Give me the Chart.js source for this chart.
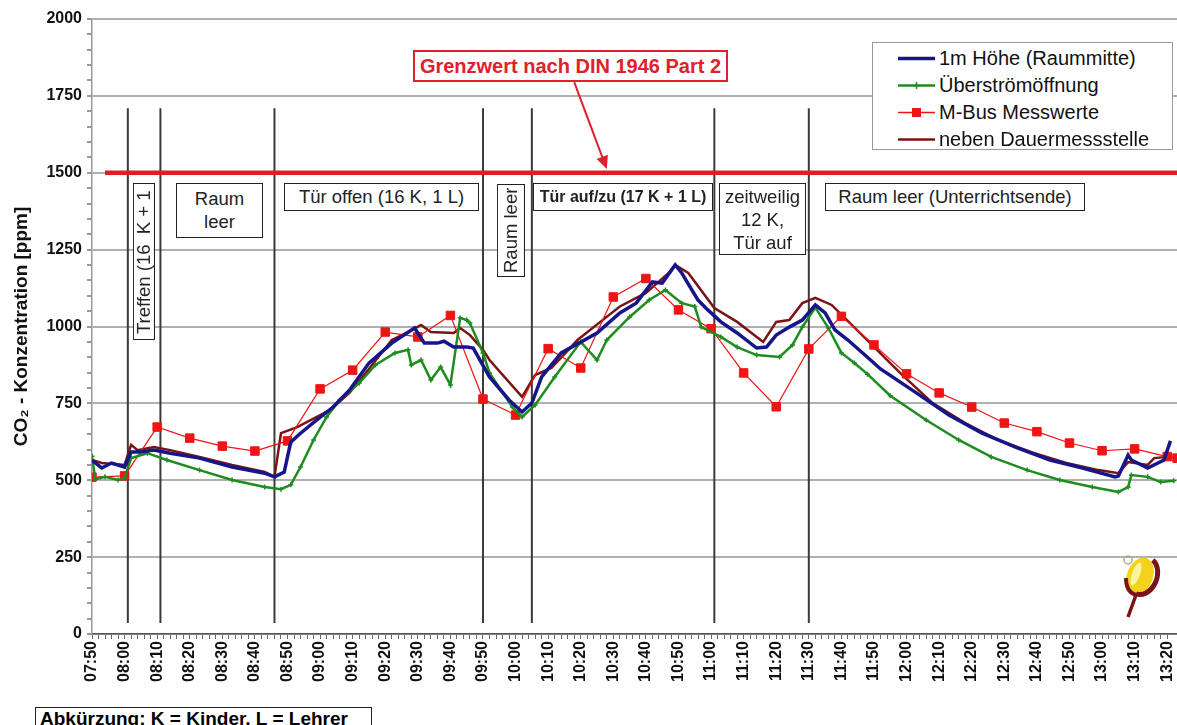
<!DOCTYPE html>
<html>
<head>
<meta charset="utf-8">
<script src="https://cdn.jsdelivr.net/npm/chart.js@4.4.1/dist/chart.umd.min.js"></script>
<style>
  body { margin: 0; background: #fff; }
  #wrap { position: relative; width: 1177px; height: 725px; overflow: hidden; font-family: "Liberation Sans", Arial, sans-serif; }
  canvas { position: absolute; left: 0; top: 0; }
  .box { position: absolute; box-sizing: border-box; background: #fff; border: 1.5px solid #222;
         color: #222; font-size: 18.5px; text-align: center; line-height: 23px; white-space: nowrap; overflow: hidden; }
  .vert { writing-mode: vertical-rl; transform: rotate(180deg); }
  #legend { position: absolute; left: 872px; top: 42px; width: 301px; height: 108px; box-sizing: border-box;
            background: #fff; border: 1px solid #999; font-size: 20px; color: #111; padding-top: 2px; }
  #legend div { height: 27px; display: flex; align-items: center; }
  #legend svg { margin-left: 25px; margin-right: 4px; }
</style>
</head>
<body>
<div id="wrap">
  <canvas id="co2-chart" width="1184" height="725"></canvas>

  <div class="box" style="left:413px;top:50px;width:315px;height:32px;border:2px solid #e0202a;color:#e0202a;font-weight:bold;font-size:20px;line-height:28px;">Grenzwert nach DIN 1946 Part 2</div>

  <div class="box vert" style="left:133px;top:183px;width:22px;height:157px;line-height:20px;text-align:start;padding-top:5px;">Treffen (16&nbsp; K + 1 L)</div>
  <div class="box" style="left:176px;top:183px;width:87px;height:55px;padding-top:3px;">Raum<br>leer</div>
  <div class="box" style="left:284px;top:183px;width:195px;height:28px;line-height:25px;">Tür offen (16 K, 1 L)</div>
  <div class="box vert" style="left:497px;top:184px;width:28px;height:93px;line-height:25px;">Raum leer</div>
  <div class="box" style="left:533px;top:183px;width:180px;height:28px;line-height:25px;font-weight:bold;font-size:16px;">Tür auf/zu (17 K + 1 L)</div>
  <div class="box" style="left:719px;top:183px;width:87px;height:72px;padding-top:1px;">zeitweilig<br>12 K,<br>Tür auf</div>
  <div class="box" style="left:825px;top:183px;width:260px;height:28px;line-height:25px;">Raum leer (Unterrichtsende)</div>

  <div class="box" style="left:35px;top:707px;width:337px;height:30px;color:#000;font-weight:bold;font-size:19px;line-height:22px;text-align:left;padding-left:4px;">Abkürzung: K = Kinder, L = Lehrer</div>

  <div id="legend"></div>
</div>

<script>
// --- data ---
const blueTimes = ["07:50","07:53","07:56","08:00","08:02","08:05","08:09","08:14","08:23","08:33","08:43","08:46","08:49","08:50","08:51","08:54","08:59","09:04","09:09","09:15","09:22","09:29","09:32","09:36","09:38","09:41","09:45","09:47","09:52","09:58","10:02","10:05","10:08","10:14","10:25","10:32","10:37","10:42","10:45","10:49","10:51","10:56","10:59","11:03","11:08","11:14","11:17","11:20","11:24","11:28","11:32","11:35","11:38","11:42","11:48","11:52","12:03","12:13","12:23","12:34","12:44","12:54","13:04","13:05","13:08","13:09","13:14","13:19","13:21"];
const blueValues = [565,540,556,543,592,592,598,588,572,543,523,511,527,576,624,653,696,738,793,881,946,995,946,946,952,933,933,930,836,761,722,751,836,914,979,1044,1076,1145,1141,1200,1174,1086,1054,1015,979,930,933,972,998,1021,1070,1044,989,956,900,862,784,712,654,605,566,540,511,514,582,566,540,566,628];

const greenTimes = ["07:50","07:51","07:54","07:58","08:00","08:02","08:07","08:13","08:23","08:33","08:43","08:48","08:51","08:54","08:58","09:02","09:06","09:12","09:17","09:23","09:27","09:28","09:31","09:34","09:37","09:40","09:43","09:45","09:46","09:50","09:52","09:59","10:02","10:06","10:12","10:20","10:25","10:28","10:35","10:41","10:46","10:51","10:55","10:57","11:03","11:08","11:14","11:21","11:25","11:28","11:32","11:36","11:40","11:44","11:48","11:55","12:06","12:16","12:26","12:37","12:47","12:57","13:05","13:08","13:09","13:14","13:18","13:22"];
const greenValues = [578,503,511,501,507,572,588,566,533,501,478,471,485,543,631,706,761,816,875,914,924,875,891,826,868,810,1028,1021,1011,914,849,738,706,745,836,950,891,956,1031,1086,1119,1076,1065,998,966,933,907,901,940,998,1062,995,914,881,845,775,696,631,576,533,501,478,462,478,517,511,494,498];

const mbusTimes = ["07:50","08:00","08:10","08:20","08:30","08:40","08:50","09:00","09:10","09:20","09:30","09:40","09:50","10:00","10:10","10:20","10:30","10:40","10:50","11:00","11:10","11:20","11:30","11:40","11:50","12:00","12:10","12:20","12:30","12:40","12:50","13:00","13:10","13:20","13:23"];
const mbusValues = [510,514,673,637,611,595,628,797,858,982,966,1036,764,712,928,865,1096,1156,1054,993,849,739,927,1033,940,846,784,738,686,658,621,596,602,577,572];

const darkTimes = ["07:50","07:53","08:00","08:02","08:04","08:09","08:14","08:23","08:33","08:43","08:46","08:48","08:53","08:59","09:03","09:09","09:14","09:22","09:27","09:31","09:34","09:41","09:43","09:46","09:50","09:52","10:02","10:06","10:11","10:19","10:26","10:32","10:40","10:47","10:49","10:53","11:01","11:08","11:16","11:20","11:24","11:28","11:32","11:37","11:48","11:58","12:08","12:18","12:28","12:39","12:49","12:59","13:05","13:08","13:14","13:16","13:20"];
const darkValues = [566,556,550,615,598,608,598,576,550,527,511,653,673,706,728,784,849,956,982,1005,982,979,995,972,924,891,771,842,865,956,1015,1065,1109,1174,1200,1174,1060,1015,950,1015,1021,1076,1093,1070,955,849,751,686,631,589,556,533,523,559,550,572,576];

const limitTimes = ["07:54","13:23"];
const limitValue = 1500;

const eventTimes = ["08:01","08:11","08:46","09:50","10:05","11:01","11:30"];
const eventRange = [36, 1710];

const arrowFrom = { t: "10:18", v: 1795 };
const arrowTo = { t: "10:28", v: 1512 };

const SERIES = [
  { label: "1m Höhe (Raummitte)",   color: "#16168a", times: blueTimes,  values: blueValues,  width: 3.5, marker: null },
  { label: "Überströmöffnung",      color: "#1f8c1f", times: greenTimes, values: greenValues, width: 2.5, marker: "cross" },
  { label: "M-Bus Messwerte",       color: "#f01414", times: mbusTimes,  values: mbusValues,  width: 1.2, marker: "rect" },
  { label: "neben Dauermessstelle", color: "#7a1414", times: darkTimes,  values: darkValues,  width: 2.5, marker: null },
];

const toMin = s => { const [h, m] = s.split(":").map(Number); return h * 60 + m; };
const fmt = v => String(Math.floor(v / 60)).padStart(2, "0") + ":" + String(v % 60).padStart(2, "0");
const pts = (times, vals) => times.map((t, i) => ({ x: toMin(t), y: vals[i] }));

const FONT = "'Liberation Sans', Arial, sans-serif";

// vertical phase lines, arrow and logo
const extras = {
  id: "extras",
  beforeDatasetsDraw(chart) {
    const { ctx, scales: { x, y } } = chart;
    ctx.save();
    ctx.strokeStyle = "#3a3a3a";
    ctx.lineWidth = 2;
    eventTimes.forEach(t => {
      const px = x.getPixelForValue(toMin(t));
      ctx.beginPath();
      ctx.moveTo(px, y.getPixelForValue(eventRange[1]));
      ctx.lineTo(px, y.getPixelForValue(eventRange[0]));
      ctx.stroke();
    });
    ctx.restore();
  },
  afterDraw(chart) {
    const { ctx, chartArea: ca, scales: { x, y } } = chart;
    ctx.save();
    // arrow to the limit line
    const x0 = x.getPixelForValue(toMin(arrowFrom.t)), y0 = y.getPixelForValue(arrowFrom.v);
    const x1 = x.getPixelForValue(toMin(arrowTo.t)), y1 = y.getPixelForValue(arrowTo.v);
    const a = Math.atan2(y1 - y0, x1 - x0);
    ctx.strokeStyle = "#e0202a";
    ctx.fillStyle = "#e0202a";
    ctx.lineWidth = 2;
    ctx.beginPath();
    ctx.moveTo(x0, y0);
    ctx.lineTo(x1 - 8 * Math.cos(a), y1 - 8 * Math.sin(a));
    ctx.stroke();
    ctx.beginPath();
    ctx.moveTo(x1, y1);
    ctx.lineTo(x1 - 13 * Math.cos(a) + 6 * Math.sin(a), y1 - 13 * Math.sin(a) - 6 * Math.cos(a));
    ctx.lineTo(x1 - 13 * Math.cos(a) - 6 * Math.sin(a), y1 - 13 * Math.sin(a) + 6 * Math.cos(a));
    ctx.closePath();
    ctx.fill();

    // small logo, bottom right
    const cx = ca.right - 37, cy = ca.bottom - 58;
    ctx.fillStyle = "#f2d21a";
    ctx.beginPath();
    ctx.ellipse(cx, cy, 13, 19, 0.35, 0, Math.PI * 2);
    ctx.fill();
    ctx.fillStyle = "#fbf3a0";
    ctx.beginPath();
    ctx.ellipse(cx - 4, cy - 2, 4, 12, 0.35, 0, Math.PI * 2);
    ctx.fill();
    ctx.strokeStyle = "#7a1418";
    ctx.lineWidth = 5;
    ctx.beginPath();
    ctx.ellipse(cx + 3, cy, 14, 19, 0.35, -1.3, 1.6);
    ctx.stroke();
    ctx.lineWidth = 4;
    ctx.beginPath();
    ctx.moveTo(cx - 14, cy + 2);
    ctx.quadraticCurveTo(cx - 14, cy + 17, cx - 3, cy + 19);
    ctx.stroke();
    ctx.lineWidth = 3.5;
    ctx.beginPath();
    ctx.moveTo(cx - 4, cy + 19);
    ctx.lineTo(cx - 12, cy + 41);
    ctx.stroke();
    ctx.strokeStyle = "#b0a890";
    ctx.lineWidth = 1.5;
    ctx.beginPath();
    ctx.arc(cx - 12, cy - 16, 4, 0, Math.PI * 2);
    ctx.stroke();
    ctx.restore();
  },
};

const datasets = SERIES.map(s => ({
  label: s.label,
  data: pts(s.times, s.values),
  borderColor: s.color,
  backgroundColor: s.color,
  borderWidth: s.width,
  pointStyle: s.marker || "circle",
  pointRadius: s.marker === "rect" ? 6 : s.marker === "cross" ? 2.5 : 0,
  pointBorderWidth: s.marker === "cross" ? 1.5 : 1,
  pointBorderColor: s.color,
  pointBackgroundColor: s.color,
  tension: 0,
}));

datasets.push({
  label: "Grenzwert",
  data: limitTimes.map(t => ({ x: toMin(t), y: limitValue })),
  borderColor: "#e31b23",
  borderWidth: 4.5,
  pointRadius: 0,
});

new Chart(document.getElementById("co2-chart"), {
  type: "line",
  data: { datasets },
  options: {
    responsive: false,
    animation: false,
    layout: { padding: { top: 19, left: 0, right: 0, bottom: 0 } },
    plugins: { legend: { display: false }, tooltip: { enabled: false } },
    scales: {
      x: {
        type: "linear",
        min: 470,
        max: 803,
        afterFit: s => { s.height = 91; s.paddingLeft = 0; s.paddingRight = 0; },
        ticks: {
          stepSize: 2,
          autoSkip: false,
          minRotation: 90,
          maxRotation: 90,
          padding: 2,
          color: "#111",
          font: { family: FONT, size: 16, weight: "bold" },
          callback: v => (v % 10 === 0 ? fmt(v) : ""),
        },
        grid: { drawOnChartArea: false, tickLength: 5, color: "#666", lineWidth: 1 },
        border: { color: "#555", width: 1.5 },
      },
      y: {
        min: 0,
        max: 2000,
        afterFit: s => { s.width = 92; s.paddingTop = 0; s.paddingBottom = 0; },
        ticks: {
          stepSize: 50,
          autoSkip: false,
          padding: 5,
          color: "#111",
          font: { family: FONT, size: 16, weight: "bold" },
          callback: v => (v % 250 === 0 ? v : ""),
        },
        grid: {
          color: c => (c.tick && c.tick.value % 250 === 0 ? "#b0b0b0" : "rgba(0,0,0,0)"),
          lineWidth: 2,
          tickColor: "#999",
          tickLength: 5,
        },
        border: { color: "#999", width: 1.5 },
        title: {
          display: true,
          text: "CO₂ - Konzentration [ppm]",
          color: "#111",
          font: { family: FONT, size: 19, weight: "bold" },
          padding: { top: 10, bottom: 0 },
        },
      },
    },
  },
  plugins: [extras],
});

// legend in the top right corner
const legend = document.getElementById("legend");
SERIES.forEach(s => {
  const row = document.createElement("div");
  let mark = "";
  if (s.marker === "rect") mark = `<rect x="14" y="6" width="9" height="9" fill="${s.color}"/>`;
  if (s.marker === "cross") mark = `<path d="M18.5 7v7M15 10.5h7" stroke="${s.color}" stroke-width="1.5"/>`;
  row.innerHTML = `<svg width="37" height="21"><line x1="0" y1="10.5" x2="37" y2="10.5" stroke="${s.color}" stroke-width="${Math.max(s.width, 1.5)}"/>${mark}</svg><span>${s.label}</span>`;
  legend.appendChild(row);
});
</script>
</body>
</html>
